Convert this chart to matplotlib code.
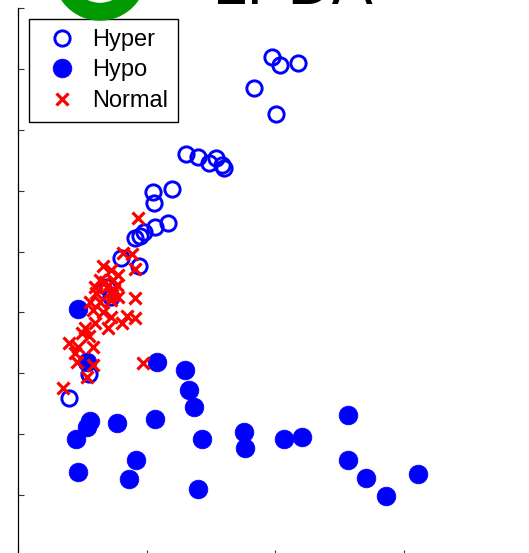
import matplotlib
matplotlib.use('Agg')
import matplotlib.pyplot as plt
from matplotlib.patches import Wedge
from matplotlib.transforms import IdentityTransform

plt.rcParams['font.family'] = ['Liberation Sans', 'DejaVu Sans']

# values (arbitrary units)
hyper_x = [1.98, 2.04, 2.18, 1.84, 2.01, 1.31, 1.40, 1.49, 1.54, 1.59, 1.60,
           1.05, 1.06, 1.20, 1.17, 1.07, 0.91, 0.95, 0.98, 0.80, 0.94, 0.69,
           0.72, 0.55, 0.40]
hyper_y = [8.19, 8.06, 8.09, 7.68, 7.26, 6.60, 6.55, 6.45, 6.53, 6.42, 6.37,
           5.98, 5.79, 6.02, 5.47, 5.40, 5.23, 5.25, 5.32, 4.89, 4.76, 4.42,
           4.25, 2.99, 2.59]

hypo_x = [0.47, 0.54, 1.08, 1.30, 1.33, 1.37, 0.56, 0.54, 0.77, 1.07, 0.45,
          1.43, 1.76, 1.77, 2.07, 2.21, 2.57, 2.57, 0.92, 0.47, 0.86, 1.40,
          2.71, 2.86, 3.11]
hypo_y = [4.05, 3.18, 3.18, 3.05, 2.72, 2.45, 2.22, 2.12, 2.18, 2.25, 1.92,
          1.92, 2.03, 1.77, 1.92, 1.95, 2.31, 1.57, 1.57, 1.38, 1.26, 1.10,
          1.28, 0.98, 1.34]

normal_x = [0.93, 0.82, 0.89, 0.91, 0.66, 0.72, 0.78, 0.64, 0.74, 0.60, 0.69,
            0.77, 0.61, 0.73, 0.78, 0.91, 0.56, 0.64, 0.72, 0.58, 0.66, 0.72,
            0.85, 0.91, 0.81, 0.52, 0.60, 0.70, 0.50, 0.55, 0.40, 0.47, 0.58,
            0.44, 0.46, 0.58, 0.54, 0.97, 0.35, 0.68, 0.75]
normal_y = [5.55, 4.97, 4.96, 4.71, 4.76, 4.69, 4.61, 4.53, 4.53, 4.42, 4.42,
            4.45, 4.32, 4.28, 4.25, 4.23, 4.17, 4.17, 4.20, 4.04, 4.00, 3.92,
            3.94, 3.91, 3.82, 3.74, 3.82, 3.74, 3.66, 3.61, 3.50, 3.43, 3.43,
            3.33, 3.18, 3.13, 2.94, 3.17, 2.76, 4.50, 4.37]

labels = ['Hyper', 'Hypo', 'Normal']

W, H = 529, 553
fig = plt.figure(figsize=(W / 100, H / 100), dpi=100)

# axes run past the right and bottom edges of the picture (cropped figure)
ax = fig.add_axes([18 / W, -3 / H, 514 / W, (H - 8 + 3) / H])

ax.plot(hyper_x, hyper_y, linestyle='none', marker='o', ms=11,
        mfc='none', mec='blue', mew=2.1, label=labels[0])
ax.plot(hypo_x, hypo_y, linestyle='none', marker='o', ms=13.5,
        mfc='blue', mec='blue', mew=0.5, label=labels[1])
ax.plot(normal_x, normal_y, linestyle='none', marker='x', ms=8.5,
        mec='red', mew=2.3, label=labels[2])

ax.set_xlim(0, 4)
ax.set_ylim(0, 9)
ax.set_xticks([0, 1, 2, 3, 4])
ax.set_yticks(range(0, 10))
ax.tick_params(direction='in', length=4.5, width=0.8, color='#333333',
               labelleft=False, labelbottom=False)
ax.spines['top'].set_visible(False)
ax.spines['right'].set_visible(False)
for s in ['left', 'bottom']:
    ax.spines[s].set_linewidth(0.9)

leg = ax.legend(loc='upper left', bbox_to_anchor=(29, H - 19),
                bbox_transform=IdentityTransform(), fontsize=17,
                frameon=True, fancybox=False, framealpha=1,
                borderpad=0.42, handlelength=1.95, handletextpad=0.32,
                labelspacing=0.36, borderaxespad=0, markerscale=1.0)
leg.get_frame().set_edgecolor('black')
leg.get_frame().set_linewidth(1.0)

# bits of the header that were cut off at the top
ring = Wedge((100, H + 26), 46, 0, 360, width=16.5, color='#009900',
             transform=IdentityTransform())
fig.patches.append(ring)
fig.text(213 / W, 1 - 4 / H, 'LPDA', fontsize=44, va='baseline', ha='left')

fig.savefig('out.png', dpi=100)
